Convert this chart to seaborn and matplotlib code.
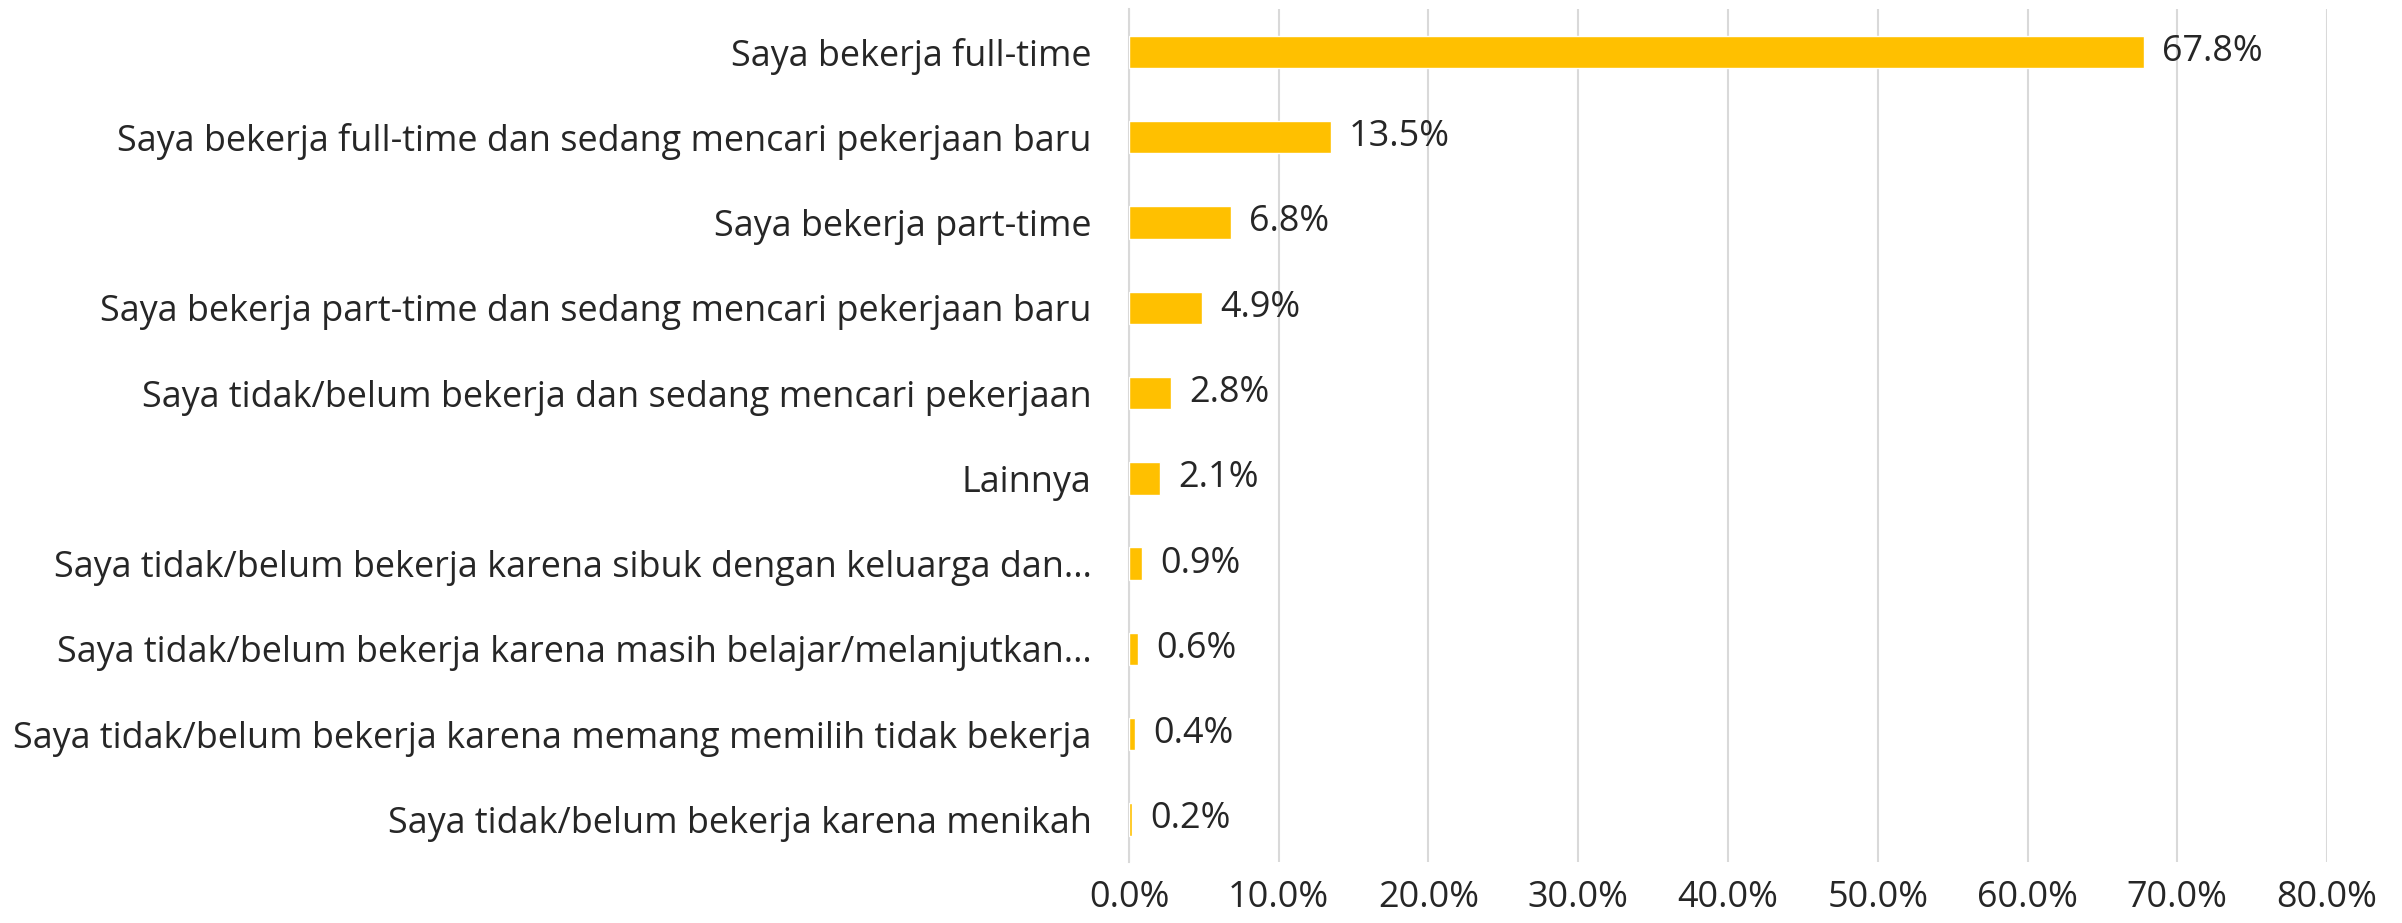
import matplotlib
matplotlib.use("Agg")

import numpy as np
import pandas as pd
import matplotlib.pyplot as plt
import seaborn as sns
from matplotlib.ticker import FixedLocator, PercentFormatter

kategori = [
    "Saya bekerja full-time",
    "Saya bekerja full-time dan sedang mencari pekerjaan baru",
    "Saya bekerja part-time",
    "Saya bekerja part-time dan sedang mencari pekerjaan baru",
    "Saya tidak/belum bekerja dan sedang mencari pekerjaan",
    "Lainnya",
    "Saya tidak/belum bekerja karena sibuk dengan keluarga dan…",
    "Saya tidak/belum bekerja karena masih belajar/melanjutkan…",
    "Saya tidak/belum bekerja karena memang memilih tidak bekerja",
    "Saya tidak/belum bekerja karena menikah",
]
persen = [67.8, 13.5, 6.8, 4.9, 2.8, 2.1, 0.9, 0.6, 0.4, 0.2]
x_ticks = [0, 10, 20, 30, 40, 50, 60, 70, 80]

WARNA_BAR = "#FFC000"
WARNA_TEKS = "#262626"
WARNA_GRID = "#D9D9D9"
UKURAN = 25.9

sns.set_theme(style="white")
plt.rcParams["font.family"] = ["Open Sans", "DejaVu Sans"]

df = pd.DataFrame({"kategori": kategori, "persen": persen})

fig = plt.figure(figsize=(24.02, 9.23), dpi=100)
ax = fig.add_axes([0.470, 0.066, 0.4988, 0.924])

sns.barplot(data=df, x="persen", y="kategori", color=WARNA_BAR,
            width=0.38, saturation=1, ax=ax, zorder=3)

ax.set_xlim(0, 80)
ax.set_ylim(len(kategori) - 0.5, -0.5)
ax.xaxis.set_major_locator(FixedLocator(x_ticks))
ax.xaxis.set_major_formatter(PercentFormatter(decimals=1))
ax.grid(axis="x", color=WARNA_GRID, linewidth=1.5, zorder=0)
ax.grid(axis="y", visible=False)

for s in ["top", "right", "bottom"]:
    ax.spines[s].set_visible(False)
ax.spines["left"].set_color(WARNA_GRID)
ax.spines["left"].set_linewidth(1.5)

# tanda kecil di batas kategori seperti gaya Excel
ax.yaxis.set_minor_locator(FixedLocator(np.arange(-0.5, len(kategori), 1)))
ax.tick_params(axis="y", which="minor", length=12, width=1.5, color=WARNA_GRID)
ax.tick_params(axis="y", which="major", length=0, pad=27,
               labelsize=UKURAN, labelcolor=WARNA_TEKS)
ax.tick_params(axis="x", length=0, pad=13, labelsize=UKURAN, labelcolor=WARNA_TEKS)

ax.set_xlabel("")
ax.set_ylabel("")

for i, v in enumerate(persen):
    ax.text(v + 1.2, i, f"{v:.1f}%", va="center", ha="left",
            fontsize=UKURAN, color=WARNA_TEKS)

fig.savefig("out.png", dpi=100)
plt.close(fig)
